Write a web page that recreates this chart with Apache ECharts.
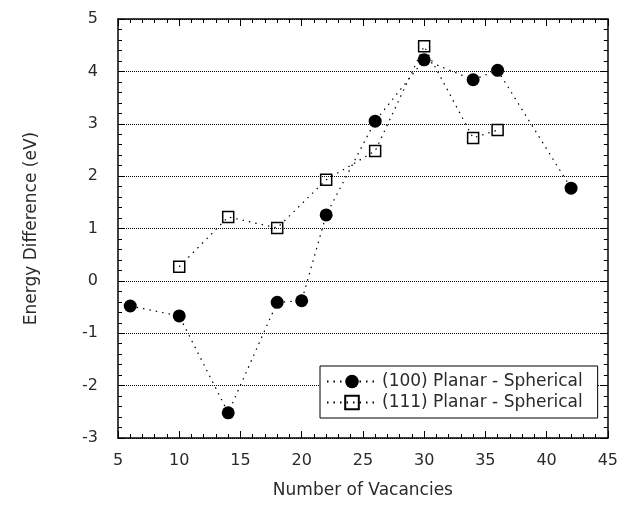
<!DOCTYPE html>
<html>
<head>
<meta charset="utf-8">
<script src="https://cdn.jsdelivr.net/npm/echarts@6/dist/echarts.min.js"></script>
<style>
html,body{margin:0;padding:0;background:#fff;}
#chart{width:621px;height:508px;}
</style>
</head>
<body>
<div id="chart"></div>
<script>
// Data
var vac100 = [6, 10, 14, 18, 20, 22, 26, 30, 34, 36, 42];
var e100 = [-0.48, -0.67, -2.52, -0.41, -0.38, 1.26, 3.05, 4.22, 3.84, 4.02, 1.77];
var vac111 = [10, 14, 18, 22, 26, 30, 34, 36];
var e111 = [0.27, 1.22, 1.01, 1.93, 2.48, 4.48, 2.73, 2.88];
var xTicks = [5, 10, 15, 20, 25, 30, 35, 40, 45];
var yTicks = [-3, -2, -1, 0, 1, 2, 3, 4, 5];
var name100 = '(100) Planar - Spherical';
var name111 = '(111) Planar - Spherical';
var xTitle = 'Number of Vacancies';
var yTitle = 'Energy Difference (eV)';

function pairs(xs, ys){ return xs.map(function(x,i){ return [x, ys[i]]; }); }

var FONT = 'DejaVu Sans, sans-serif';
var TXT = '#2a2a2a';
var chart = echarts.init(document.getElementById('chart'), null, {renderer:'canvas'});

var axisLine = {show:true, onZero:false, lineStyle:{color:'#000', width:1.5}};
function xAxisDef(pos, labels){
  return {
    type:'value', position:pos, min:xTicks[0], max:xTicks[xTicks.length-1], interval:5,
    name: labels ? xTitle : '', nameLocation:'middle', nameGap:44,
    nameTextStyle:{fontSize:17, color:TXT, fontFamily:FONT},
    axisLine:axisLine,
    axisTick:{show:true, inside:true, length:7, lineStyle:{color:'#000', width:1}},
    minorTick:{show:true, splitNumber:5, length:4, lineStyle:{color:'#000', width:1}},
    axisLabel:{show:labels, margin:15, fontSize:16, color:TXT, fontFamily:FONT},
    splitLine:{show:false}
  };
}
function yAxisDef(pos, labels){
  return {
    type:'value', position:pos, min:yTicks[0], max:yTicks[yTicks.length-1], interval:1,
    name: labels ? yTitle : '', nameLocation:'middle', nameGap:78,
    nameTextStyle:{fontSize:17, color:TXT, fontFamily:FONT},
    axisLine:axisLine,
    axisTick:{show:true, inside:true, length:7, lineStyle:{color:'#000', width:1}},
    minorTick:{show:true, splitNumber:5, length:4, lineStyle:{color:'#000', width:1}},
    axisLabel:{show:labels, margin:20, fontSize:16, color:TXT, fontFamily:FONT},
    splitLine:{show:labels, lineStyle:{color:'#000', width:1, type:[1,1]}}
  };
}

var lineStyleDot = {color:'#000', width:1.2, type:[1.5,5]};

chart.setOption({
  animation:false,
  backgroundColor:'#fff',
  grid:{left:118, right:9, top:19, bottom:70},
  xAxis:[xAxisDef('bottom', true), xAxisDef('top', false)],
  yAxis:[yAxisDef('left', true), yAxisDef('right', false)],
  legend:{
    left:320, top:366, orient:'vertical',
    backgroundColor:'#fff', borderColor:'#000', borderWidth:1, borderRadius:0,
    padding:[7, 15, 7, 6], itemGap:4, itemWidth:50, itemHeight:17,
    textStyle:{fontSize:17, color:TXT, fontFamily:FONT},
    data:[name100, name111]
  },
  series:[
    {
      name:name100, type:'line', data:pairs(vac100, e100),
      symbol:'circle', symbolSize:13,
      itemStyle:{color:'#000'},
      lineStyle:lineStyleDot, z:3
    },
    {
      name:name111, type:'line', data:pairs(vac111, e111),
      symbol:'rect', symbolSize:11,
      itemStyle:{color:'rgba(255,255,255,0)', borderColor:'#000', borderWidth:1.5},
      lineStyle:lineStyleDot, z:3
    }
  ]
});
</script>
</body>
</html>
